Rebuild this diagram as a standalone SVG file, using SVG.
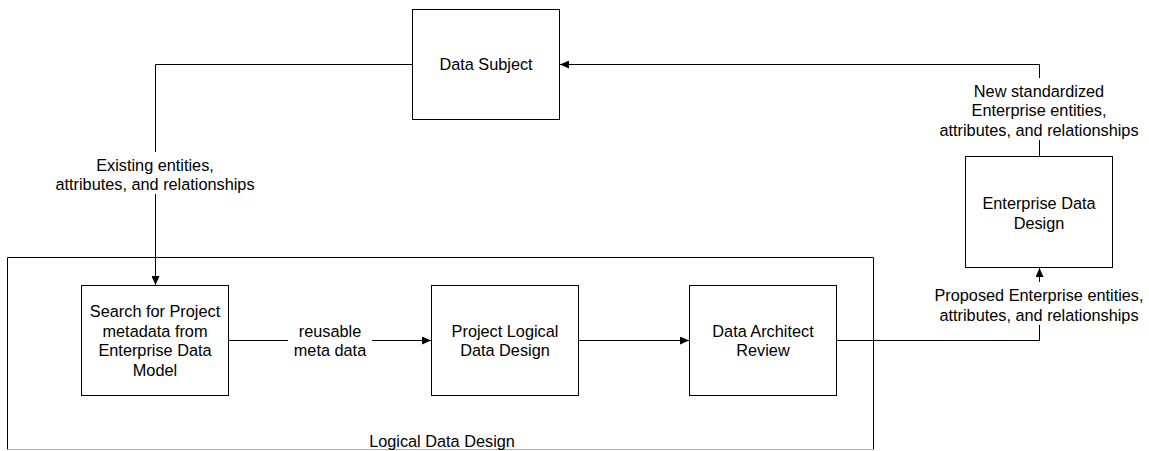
<svg xmlns="http://www.w3.org/2000/svg" width="1149" height="451" viewBox="0 0 1149 451">
<style>
rect{fill:#fff;stroke:#000;stroke-width:1}
text{font-family:"Liberation Sans",Arial,sans-serif;font-size:16.3px;fill:#000;text-anchor:middle}
.c{fill:none;stroke:#000;stroke-width:1}
.lb{fill:#fff;stroke:none}
</style>
<defs>
<marker id="a" markerWidth="9" markerHeight="8" refX="9" refY="4" orient="auto" markerUnits="userSpaceOnUse"><path d="M0,0 L9,4 L0,8 Z" fill="#000"/></marker>
</defs>
<g id="logical-data-design">
<path d="M7.5,449.5 V257.5 H873.5 V449.5" fill="#fff" stroke="#000"/>
<path d="M7.5,449.5 H873.5" fill="none" stroke="#b0b0b0"/>
<text x="442" y="447">Logical Data Design</text>
</g>
<g id="data-subject">
<rect x="412.5" y="9.5" width="147" height="110"/>
<text x="486" y="69.5">Data Subject</text>
</g>
<g id="enterprise-data-design">
<rect x="965.5" y="156.5" width="147" height="111"/>
<text x="1039" y="208.5">Enterprise Data</text>
<text x="1039" y="228.5">Design</text>
</g>
<g id="search">
<rect x="81.5" y="285.5" width="147" height="110"/>
<text x="155" y="316.5">Search for Project</text>
<text x="155" y="336.5">metadata from</text>
<text x="155" y="356">Enterprise Data</text>
<text x="155" y="375.5">Model</text>
</g>
<g id="project-logical">
<rect x="431.5" y="285.5" width="147" height="110"/>
<text x="505" y="336.5">Project Logical</text>
<text x="505" y="356">Data Design</text>
</g>
<g id="data-architect">
<rect x="689.5" y="285.5" width="147" height="110"/>
<text x="763" y="336.5">Data Architect</text>
<text x="763" y="356">Review</text>
</g>
<g id="connectors">
<path class="c" d="M412.5,64.5 H155.5 V285" marker-end="url(#a)"/>
<rect class="lb" x="50" y="152" width="212" height="42"/>
<text x="155" y="170.5">Existing entities,</text>
<text x="155" y="190">attributes, and relationships</text>
<path class="c" d="M228.5,340.5 H431" marker-end="url(#a)"/>
<rect class="lb" x="288" y="320" width="84" height="40"/>
<text x="330" y="336.5">reusable</text>
<text x="330" y="356">meta data</text>
<path class="c" d="M578.5,340.5 H689" marker-end="url(#a)"/>
<path class="c" d="M836.5,340.5 H1039.5 V268" marker-end="url(#a)"/>
<rect class="lb" x="926" y="282" width="223" height="43"/>
<text x="1039" y="301">Proposed Enterprise entities,</text>
<text x="1039" y="320.5">attributes, and relationships</text>
<path class="c" d="M1039.5,156.5 V64.5 H560" marker-end="url(#a)"/>
<rect class="lb" x="935" y="78" width="210" height="62"/>
<text x="1039" y="96.5">New standardized</text>
<text x="1039" y="116">Enterprise entities,</text>
<text x="1039" y="135.5">attributes, and relationships</text>
</g>
</svg>
